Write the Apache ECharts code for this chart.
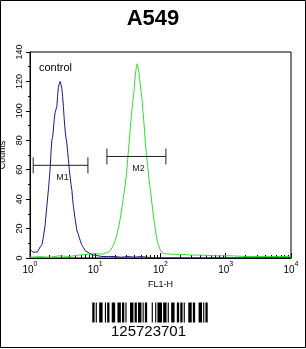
<!DOCTYPE html>
<html><head><meta charset="utf-8">
<script src="https://cdn.jsdelivr.net/npm/echarts@6/dist/echarts.min.js"></script>
<style>html,body{margin:0;padding:0;background:#fff}#c{width:306px;height:349px}</style>
</head><body><div id="c"></div>
<script>
// FL1-H values (log axis) and counts for control (blue)
const blueX = [1.0,1.06,1.11,1.19,1.3,1.43,1.52,1.6,1.7,1.81,1.92,2.03,2.1,2.16,2.22,2.28,2.35,2.43,2.5,2.58,2.65,2.72,2.8,2.9,2.98,3.08,3.16,3.25,3.35,3.45,3.55,3.67,3.78,3.88,4.0,4.12,4.25,4.39,4.5,4.63,4.9,5.22,5.5,5.87,6.2,6.61,7.0,7.45,8.3,9.42,11,12.6,16,20,25,31.6,40,50,63,80,100,1000,10000];
const blueY = [6,5,4,3,4,7.5,9,14,22,35,47,60,72,80,82,87,94,99,100,103,110,116,118,120,118,115,110,103,94,87,82,78,72,67,60,55,50,46,40,35,27,19,16,12,9,7,5,4,3,2,1.5,1,1,1,0.5,1,0.5,1,0.5,0,0,0,0];
// sample (green)
const greenX = [1.0,1.41,2.0,2.82,3.98,5.62,7.94,10,12.6,15.8,17.0,18.6,20.3,21.5,22.8,24.2,25.8,27.4,29.0,30.2,31.4,32.5,33.7,35.8,37.0,38.0,39.0,39.8,41.2,42.5,43.9,45.0,46.3,47.8,49.2,50.8,52.2,53.8,55.3,57.0,58.7,61.0,63.8,67.0,70.1,73.5,77.3,80.5,83.8,87.0,90.8,100,112,150,204,300,412,700,1202,2000,3467,6000,10000];
const greenY = [0.5,1,0.5,1.5,1,2,2.5,3,2.5,4,5,8,12,16,21,27,35,43,51,58,67,75,83,97,103,108,112,117,125,129,132,131,128,122,117,112,108,100,94,86,78,70,62,53,46,38,30,24,19,14,10,5,3,2.5,2.5,2,2,1.5,1.5,1,1,1,1];
// gate markers: [from, to, count level, label]
const gates = [[1.12, 7.72, 63, 'M1'], [15.1, 121, 69, 'M2']];
const yTicks = {min: 0, max: 140, interval: 20};
const xRange = {min: 1, max: 10000};
const barcodeText = '125723701';

const FONT = 'Liberation Sans, Arial, sans-serif';

// Code 128 (set C then B) encoding of the barcode text
const PAT = {12:'112232',57:'312113',23:'312131',70:'112412',100:'114131',17:'123221',49:'211331',105:'211232',106:'2331112'};
function encode(txt){
  const codes=[105];
  let i=0;
  while(i+1<txt.length){codes.push(parseInt(txt.substr(i,2),10)); i+=2;}
  if(i<txt.length){codes.push(100); codes.push(txt.charCodeAt(i)-32);}
  let sum=codes[0];
  for(let k=1;k<codes.length;k++) sum+=k*codes[k];
  codes.push(sum%103);
  codes.push(106);
  return codes.map(c=>PAT[c]).join('');
}
const pattern = encode(barcodeText);
const totalMod = pattern.split('').reduce((a,b)=>a+ +b,0);
const bcLeft=92.3, bcWidth=115.4, mod=bcWidth/totalMod;
const barRects=[];
let px=bcLeft;
pattern.split('').forEach((w,i)=>{
  const ww=+w*mod;
  if(i%2===0) barRects.push({type:'rect',shape:{x:px,y:302.5,width:ww,height:20},style:{fill:'#000'},silent:true});
  px+=ww;
});

const chart = echarts.init(document.getElementById('c'), null, {renderer:'canvas'});
chart.setOption({
  animation:false,
  backgroundColor:'#fff',
  title:{text:'A549',left:'center',top:3,textStyle:{fontFamily:FONT,fontSize:22,fontWeight:'bold',color:'#000'}},
  grid:{left:30,right:15,top:52,bottom:91,show:true,borderColor:'#000',borderWidth:1,containLabel:false,outerBoundsMode:'none'},
  xAxis:{type:'log',logBase:10,min:xRange.min,max:xRange.max,
    name:'FL1-H',nameLocation:'middle',nameGap:20,nameTextStyle:{fontFamily:FONT,fontSize:9,color:'#000'},
    axisLine:{lineStyle:{color:'#000',width:1}},
    axisTick:{inside:true,length:5,lineStyle:{color:'#000'}},
    minorTick:{show:true,splitNumber:9,length:3,lineStyle:{color:'#000'}},
    splitLine:{show:false},minorSplitLine:{show:false},
    axisLabel:{margin:3,color:'#000',fontFamily:FONT,
      formatter:v=>'{b|10}{s|'+Math.round(Math.log10(v))+'}',
      rich:{b:{fontSize:10,fontFamily:FONT,color:'#000',lineHeight:14,verticalAlign:'bottom'},
            s:{fontSize:7,fontFamily:FONT,color:'#000',lineHeight:14,verticalAlign:'top'}}}
  },
  yAxis:{type:'value',min:yTicks.min,max:yTicks.max,interval:yTicks.interval,
    name:'Counts',nameLocation:'middle',nameGap:20,nameTextStyle:{fontFamily:FONT,fontSize:9,color:'#000'},
    axisLine:{show:true,lineStyle:{color:'#000'}},
    axisTick:{show:true,length:4,lineStyle:{color:'#000'}},
    minorTick:{show:true,splitNumber:2,length:2,lineStyle:{color:'#000'}},
    splitLine:{show:false},
    axisLabel:{rotate:90,margin:6,fontFamily:FONT,fontSize:9,color:'#000'}
  },
  series:[
    {type:'line',data:greenX.map((x,i)=>[x,greenY[i]]),showSymbol:false,lineStyle:{color:'#33dd33',width:1},itemStyle:{color:'#33dd33'},z:2},
    {type:'line',data:blueX.map((x,i)=>[x,blueY[i]]),showSymbol:false,lineStyle:{color:'#1a1a8a',width:1},itemStyle:{color:'#1a1a8a'},z:3},
    {type:'custom',data:gates,z:4,
      renderItem:(params,api)=>{
        const a=api.coord([api.value(0),api.value(2)]);
        const b=api.coord([api.value(1),api.value(2)]);
        const lbl=gates[params.dataIndex][3];
        const st={stroke:'#222',lineWidth:1};
        return {type:'group',children:[
          {type:'line',shape:{x1:a[0],y1:a[1],x2:b[0],y2:b[1]},style:st},
          {type:'line',shape:{x1:a[0],y1:a[1]-8,x2:a[0],y2:a[1]+8},style:st},
          {type:'line',shape:{x1:b[0],y1:b[1]-8,x2:b[0],y2:b[1]+8},style:st},
          {type:'text',style:{text:lbl,x:(a[0]+b[0])/2+2,y:a[1]+12,align:'center',verticalAlign:'middle',fontFamily:FONT,fontSize:9,fill:'#222'}}
        ]};
      }}
  ],
  graphic:[
    {type:'text',left:39,top:62,style:{text:'control',fontFamily:FONT,fontSize:11,fill:'#000'}},
    {type:'rect',shape:{x:0.5,y:0.5,width:305,height:347},style:{fill:null,stroke:'#000',lineWidth:1},silent:true},
    {type:'group',children:barRects},
    {type:'text',style:{text:barcodeText,x:148.5,y:324,align:'center',verticalAlign:'top',fontFamily:FONT,fontSize:15,fill:'#000'}}
  ]
});
</script></body></html>
